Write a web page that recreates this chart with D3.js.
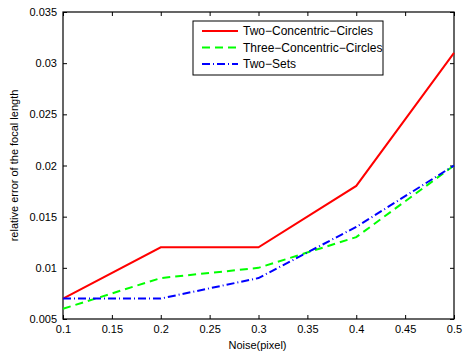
<!DOCTYPE html>
<html>
<head>
<meta charset="utf-8">
<script src="https://cdn.jsdelivr.net/npm/d3@7"></script>
<style>
  body { margin: 0; background: #fff; }
  text { font-family: "Liberation Sans", Arial, sans-serif; }
</style>
</head>
<body>
<script>
// data
var noise = [0.1, 0.2, 0.3, 0.4, 0.5];
var twoCircles = [0.007, 0.012, 0.012, 0.018, 0.031];
var threeCircles = [0.006, 0.009, 0.010, 0.013, 0.020];
var twoSets = [0.007, 0.007, 0.009, 0.014, 0.020];
var seriesNames = ["Two\u2212Concentric\u2212Circles", "Three\u2212Concentric\u2212Circles", "Two\u2212Sets"];
var xTicks = [0.1, 0.15, 0.2, 0.25, 0.3, 0.35, 0.4, 0.45, 0.5];
var yTicks = [0.005, 0.01, 0.015, 0.02, 0.025, 0.03, 0.035];

var outWidth = 464, outHeight = 358;
var margin = {top: 12, right: 10, bottom: 39, left: 63},
    width = outWidth - margin.left - margin.right,
    height = outHeight - margin.top - margin.bottom;

var xScale = d3.scaleLinear().domain([0.1, 0.5]).range([0, width]);
var yScale = d3.scaleLinear().domain([0.005, 0.035]).range([height, 0]);

var svg = d3.select("body").append("svg")
    .attr("width", outWidth)
    .attr("height", outHeight);
var g = svg.append("g")
    .attr("transform", "translate(" + margin.left + "," + margin.top + ")");

var fmt = function(d) { return String(+d.toFixed(3)); };

// axes, ticks pointing inward (matlab style)
function styleAxis(sel) {
  sel.select(".domain").remove();
  sel.selectAll("line").attr("stroke", "#000");
  sel.selectAll("text").attr("fill", "#000").style("font-size", "11px");
}
g.append("g").attr("transform", "translate(0," + height + ")")
  .call(d3.axisBottom(xScale).tickValues(xTicks).tickFormat(fmt).tickSizeInner(-4).tickSizeOuter(0).tickPadding(6))
  .call(styleAxis);
g.append("g")
  .call(d3.axisLeft(yScale).tickValues(yTicks).tickFormat(fmt).tickSizeInner(-4).tickSizeOuter(0).tickPadding(6))
  .call(styleAxis);
g.append("g")
  .call(d3.axisTop(xScale).tickValues(xTicks).tickFormat("").tickSizeInner(-4).tickSizeOuter(0))
  .call(styleAxis);
g.append("g").attr("transform", "translate(" + width + ",0)")
  .call(d3.axisRight(yScale).tickValues(yTicks).tickFormat("").tickSizeInner(-4).tickSizeOuter(0))
  .call(styleAxis);
g.append("rect")
  .attr("width", width).attr("height", height)
  .attr("fill", "none").attr("stroke", "#000").attr("stroke-width", 1.2);

// lines
var series = [
  {name: seriesNames[0], values: twoCircles, color: "#ff0000", dash: null},
  {name: seriesNames[1], values: threeCircles, color: "#00ff00", dash: "8,5"},
  {name: seriesNames[2], values: twoSets, color: "#0000ff", dash: "8,3,1,3"}
];
var line = d3.line()
  .x(function(d, i) { return xScale(noise[i]); })
  .y(function(d) { return yScale(d); });

g.selectAll(".series").data(series).enter().append("path")
  .attr("class", "series")
  .attr("d", function(d) { return line(d.values); })
  .attr("fill", "none")
  .attr("stroke", function(d) { return d.color; })
  .attr("stroke-width", 2)
  .attr("stroke-dasharray", function(d) { return d.dash; });

// labels
svg.append("text")
  .attr("x", margin.left + width / 2 - 1).attr("y", 349)
  .style("text-anchor", "middle").style("font-size", "11px")
  .text("Noise(pixel)");
svg.append("text")
  .attr("transform", "translate(18," + (margin.top + height / 2) + ") rotate(-90)")
  .style("text-anchor", "middle").style("font-size", "11px")
  .text("relative error of the focal length");

// legend
var legend = svg.append("g").attr("transform", "translate(193,21)");
legend.append("rect")
  .attr("width", 190).attr("height", 54)
  .attr("fill", "#fff").attr("stroke", "#000").attr("stroke-width", 1);
var items = legend.selectAll(".legend").data(series).enter().append("g")
  .attr("class", "legend")
  .attr("transform", function(d, i) { return "translate(0," + (10 + i * 16.5) + ")"; });
items.append("line")
  .attr("x1", 9).attr("x2", 45)
  .attr("stroke", function(d) { return d.color; })
  .attr("stroke-width", 2)
  .attr("stroke-dasharray", function(d) { return d.dash; });
items.append("text")
  .attr("x", 50).attr("dy", "0.35em")
  .style("font-size", "12px")
  .text(function(d) { return d.name; });
</script>
</body>
</html>
